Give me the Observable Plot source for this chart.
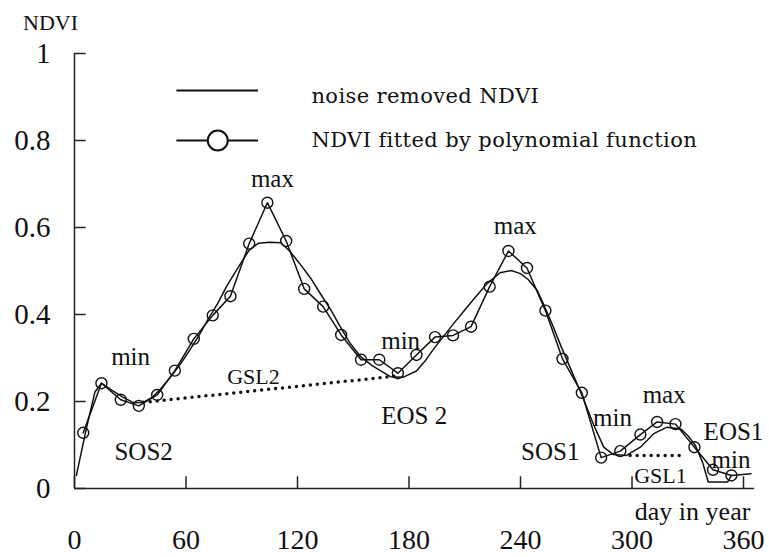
<!DOCTYPE html>
<html>
<head>
<meta charset="utf-8">
<script src="https://cdn.jsdelivr.net/npm/d3@7"></script>
<script src="https://cdn.jsdelivr.net/npm/@observablehq/plot@0.6"></script>
<style>
  html, body { margin: 0; padding: 0; background: #fff; }
  #chart svg { display: block; }
  #chart svg text { font-family: "Liberation Serif", "Times New Roman", serif; }
  #chart svg g.legend-text text { font-family: "DejaVu Serif", serif; letter-spacing: 0.4px; }
</style>
</head>
<body>
<div id="chart"></div>
<script>
// ---- data (day of year, NDVI) ----
const smoothDay = [1, 6.5, 11, 14.5, 20, 26, 32, 37, 42, 47, 52, 57, 62, 67, 72, 77, 82, 88, 94, 99, 105, 111, 116, 121, 127, 132, 138, 143, 148, 154, 160, 165, 170, 177, 184, 189, 194, 199, 204, 209, 215, 222, 229, 235, 240, 244, 249, 253, 257, 262, 267, 273, 279.4, 284.8, 290, 297, 304.5, 311.7, 318.9, 326.2, 330, 334, 338, 341, 351.5, 353.5];
const smoothNdvi = [0.03, 0.14, 0.222, 0.242, 0.226, 0.21, 0.197, 0.198, 0.21, 0.232, 0.258, 0.286, 0.318, 0.352, 0.39, 0.425, 0.466, 0.508, 0.548, 0.564, 0.566, 0.565, 0.545, 0.518, 0.484, 0.45, 0.41, 0.372, 0.336, 0.303, 0.283, 0.27, 0.257, 0.256, 0.27, 0.295, 0.325, 0.352, 0.379, 0.405, 0.436, 0.471, 0.496, 0.501, 0.494, 0.481, 0.455, 0.418, 0.378, 0.325, 0.275, 0.215, 0.146, 0.095, 0.078, 0.076, 0.095, 0.126, 0.141, 0.137, 0.122, 0.1, 0.06, 0.015, 0.015, 0.03];

const fittedDay = [4.7, 14.5, 24.9, 34.6, 44.5, 54, 64.2, 74.4, 83.9, 94, 103.8, 113.9, 123.6, 133.8, 143.5, 154.2, 164, 174, 184, 194, 203.7, 213.4, 223.4, 233.5, 243.5, 253.4, 262.6, 273, 283.4, 293.7, 304.5, 313.5, 323.4, 333.6, 343.6, 353.5];
const fittedNdvi = [0.128, 0.242, 0.204, 0.19, 0.215, 0.271, 0.344, 0.398, 0.442, 0.563, 0.657, 0.569, 0.459, 0.418, 0.353, 0.296, 0.296, 0.265, 0.307, 0.348, 0.352, 0.372, 0.464, 0.546, 0.507, 0.409, 0.298, 0.22, 0.071, 0.086, 0.124, 0.153, 0.148, 0.095, 0.043, 0.03];
const fittedTailDay = [364];
const fittedTailNdvi = [0.034];

// growing season length segments (SOS -> EOS)
const gslName = ["GSL2", "GSL2", "GSL1", "GSL1"];
const gslDay = [37, 172, 299, 329];
const gslNdvi = [0.198, 0.258, 0.076, 0.076];

// annotations
const annText = ["min", "max", "min", "max", "min", "max", "SOS2", "EOS 2", "SOS1", "EOS1", "min"];
const annDay = [30.2, 106.5, 175.5, 237.2, 289.5, 317.3, 37.2, 182.8, 256, 354.6, 353.3];
const annNdvi = [0.302, 0.712, 0.34, 0.603, 0.163, 0.216, 0.085, 0.166, 0.083, 0.13, 0.066];
const gslText = ["GSL2", "GSL1"];
const gslTextDay = [96.3, 315.3];
const gslTextNdvi = [0.257, 0.028];

const xTicks = [0, 60, 120, 180, 240, 300, 360];
const yTicks = [0, 0.2, 0.4, 0.6, 0.8, 1];
const legendLabels = ["noise removed NDVI", "NDVI fitted by polynomial function"];

// ---- derived tables ----
const smooth = smoothDay.map((d, i) => ({day: d, ndvi: smoothNdvi[i]}));
const fitted = fittedDay.map((d, i) => ({day: d, ndvi: fittedNdvi[i]}));
const fittedLine = fitted.concat(fittedTailDay.map((d, i) => ({day: d, ndvi: fittedTailNdvi[i]})));
const gsl = gslDay.map((d, i) => ({name: gslName[i], day: d, ndvi: gslNdvi[i]}));
const ann = annText.map((t, i) => ({t, day: annDay[i], ndvi: annNdvi[i]}));
const gslLab = gslText.map((t, i) => ({t, day: gslTextDay[i], ndvi: gslTextNdvi[i]}));

// ---- layout (in data units) ----
const xAxisEnd = 366;
const xTickLen = 0.027;   // inward tick length on the x axis (NDVI units)
const yTickLen = 6.3;     // inward tick length on the y axis (days)
const legendX1 = 55.1, legendX2 = 99, legendMarkX = 77.1, legendTextX = 127.5;
const legendY = [0.915, 0.8];
const legendTextY = [0.902, 0.8];

const serif = "Liberation Serif, Times New Roman, serif";
const legendLines = legendY.map(y => ({y}));

const chart = Plot.plot({
  width: 769,
  height: 557,
  marginLeft: 74,
  marginRight: 26,
  marginTop: 53,
  marginBottom: 69,
  style: {fontFamily: serif, color: "#111", background: "#fff"},
  x: {domain: [0, 360], label: null},
  y: {domain: [0, 1], label: null},
  marks: [
    // axis lines and inward ticks
    Plot.ruleY([0], {x1: 0, x2: xAxisEnd, stroke: "#222", strokeWidth: 1.5}),
    Plot.ruleX([0], {y1: 0, y2: 1, stroke: "#222", strokeWidth: 1.5}),
    Plot.ruleX(xTicks, {x: d => d, y1: 0, y2: xTickLen, stroke: "#222", strokeWidth: 1.5}),
    Plot.ruleY(yTicks, {y: d => d, x1: 0, x2: yTickLen, stroke: "#222", strokeWidth: 1.5}),
    Plot.axisX({ticks: xTicks, label: null, tickSize: 0, tickPadding: 41, fontSize: 28, fontFamily: serif, tickFormat: d => String(d)}),
    Plot.axisY({ticks: yTicks, label: null, tickSize: 0, tickPadding: 24, fontSize: 29, fontFamily: serif, tickFormat: d => String(d)}),
    Plot.text(["NDVI"], {x: -12.9, y: 1.071, fontSize: 22, fontFamily: serif, textAnchor: "middle"}),
    Plot.text(["day in year"], {x: 332.6, y: -0.053, fontSize: 26, fontFamily: serif, textAnchor: "middle"}),

    // GSL dotted segments
    Plot.line(gsl, {x: "day", y: "ndvi", z: "name", stroke: "#111", strokeWidth: 3.5, strokeDasharray: "0 7", strokeLinecap: "round"}),

    // curves
    Plot.line(smooth, {x: "day", y: "ndvi", stroke: "#111", strokeWidth: 1.5}),
    Plot.line(fittedLine, {x: "day", y: "ndvi", stroke: "#111", strokeWidth: 1.5}),
    Plot.dot(fitted, {x: "day", y: "ndvi", r: 5.5, stroke: "#111", strokeWidth: 1.4, fill: "none"}),

    // annotations
    Plot.text(ann, {x: "day", y: "ndvi", text: "t", fontSize: 25, fontFamily: serif, textAnchor: "middle", fill: "#111"}),
    Plot.text(gslLab, {x: "day", y: "ndvi", text: "t", fontSize: 22, fontFamily: serif, textAnchor: "middle", fill: "#111"}),

    // legend
    Plot.ruleY(legendLines, {y: "y", x1: legendX1, x2: legendX2, stroke: "#111", strokeWidth: 2}),
    Plot.dot([legendY[1]], {x: legendMarkX, y: d => d, r: 10, stroke: "#111", strokeWidth: 2, fill: "#fff"}),
    Plot.text(legendLabels, {x: legendTextX, y: (d, i) => legendTextY[i], text: d => d, textAnchor: "start", fontSize: 21, fill: "#111"})
  ]
});
// tag the legend labels so the stylesheet can give them their own serif face
d3.select(chart).selectAll("g[aria-label=text]").filter(function() {
  return d3.select(this).selectAll("text").nodes().some(n => n.textContent === legendLabels[0]);
}).classed("legend-text", true);
document.getElementById("chart").append(chart);
</script>
</body>
</html>
